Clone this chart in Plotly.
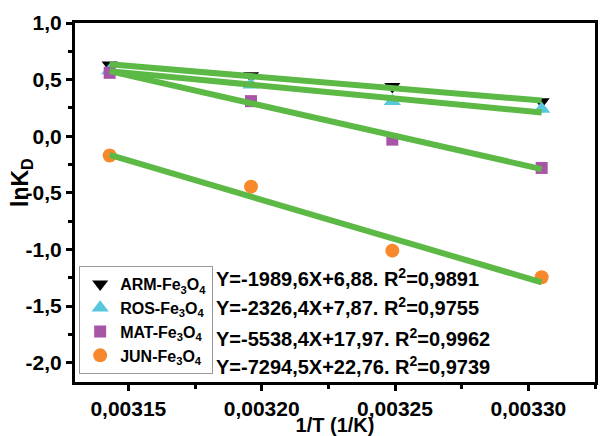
import plotly.graph_objects as go

# ---- data ----
inv_T = [0.003143, 0.003196, 0.003249, 0.003305]

arm = [0.63, 0.535, 0.44, 0.305]
ros = [0.58, 0.455, 0.31, 0.24]
mat = [0.56, 0.31, -0.03, -0.28]
jun = [-0.17, -0.445, -1.01, -1.245]

# fitted lines (values at first and last 1/T)
fit_x = [inv_T[0], inv_T[-1]]
arm_fit = [0.635, 0.315]
ros_fit = [0.575, 0.21]
mat_fit = [0.575, -0.29]
jun_fit = [-0.165, -1.29]

names = ["ARM-Fe<sub>3</sub>O<sub>4</sub>", "ROS-Fe<sub>3</sub>O<sub>4</sub>",
         "MAT-Fe<sub>3</sub>O<sub>4</sub>", "JUN-Fe<sub>3</sub>O<sub>4</sub>"]
equations = ["Y=-1989,6X+6,88. R<sup>2</sup>=0,9891",
             "Y=-2326,4X+7,87. R<sup>2</sup>=0,9755",
             "Y=-5538,4X+17,97. R<sup>2</sup>=0,9962",
             "Y=-7294,5X+22,76. R<sup>2</sup>=0,9739"]

x_ticks = [0.00315, 0.00320, 0.00325, 0.00330]
x_ticktext = ["0,00315", "0,00320", "0,00325", "0,00330"]
y_ticks = [1.0, 0.5, 0.0, -0.5, -1.0, -1.5, -2.0]
y_ticktext = ["1,0", "0,5", "0,0", "-0,5", "-1,0", "-1,5", "-2,0"]

FONT = "Liberation Sans, Arial, sans-serif"
GREEN = "#5cb946"
series = [
    (arm, arm_fit, "triangle-down", "#000000", 14),
    (ros, ros_fit, "triangle-up", "#57c7dc", 15),
    (mat, mat_fit, "square", "#a855a8", 12),
    (jun, jun_fit, "circle", "#f7892c", 14),
]

fig = go.Figure()
for (ys, _, sym, col, sz), nm in zip(series, names):
    fig.add_trace(go.Scatter(x=inv_T, y=ys, mode="markers", name=nm,
                             marker=dict(symbol=sym, color=col, size=sz, line=dict(width=0))))
for (_, fy, _, _, _) in series:
    fig.add_trace(go.Scatter(x=fit_x, y=fy, mode="lines", showlegend=False,
                             line=dict(color=GREEN, width=6)))

eq_y = [0.290, 0.209, 0.125, 0.047]
for txt, yy in zip(equations, eq_y):
    fig.add_annotation(text=txt, xref="paper", yref="paper", x=0.268, y=yy,
                       xanchor="left", yanchor="middle", showarrow=False,
                       font=dict(family=FONT, size=20, color="black", weight="bold"))

fig.add_annotation(text="lnK<sub>D</sub>", xref="paper", yref="paper",
                   x=-0.104, y=0.557, textangle=-90, showarrow=False,
                   xanchor="center", yanchor="middle",
                   font=dict(family=FONT, size=23, color="black", weight="bold"))

axis_common = dict(showline=True, linecolor="black", linewidth=3, mirror=True,
                   ticks="outside", tickwidth=3, ticklen=6, tickcolor="black",
                   showgrid=False, zeroline=False,
                   tickfont=dict(family=FONT, size=21, color="black", weight="bold"))

fig.update_xaxes(range=[0.003130, 0.003325], tickvals=x_ticks, ticktext=x_ticktext,
                 minor=dict(ticks="outside", dtick=0.000025, tick0=0.00315,
                            ticklen=4, tickwidth=3, tickcolor="black"),
                 title=dict(text="1/T (1/K)", standoff=0,
                            font=dict(family=FONT, size=20, color="black", weight="bold")),
                 **axis_common)
fig.update_yaxes(range=[-2.17, 1.0], tickvals=y_ticks, ticktext=y_ticktext,
                 minor=dict(ticks="outside", dtick=0.25, tick0=0,
                            ticklen=4, tickwidth=3, tickcolor="black"),
                 **axis_common)

fig.update_layout(
    width=600, height=436,
    margin=dict(l=75, r=5, t=23, b=54, autoexpand=False),
    plot_bgcolor="white", paper_bgcolor="white",
    font=dict(family=FONT, color="black"),
    legend=dict(x=0.008, y=0.323, xanchor="left", yanchor="top",
                bgcolor="white", bordercolor="#999999", borderwidth=1,
                font=dict(family=FONT, size=16, color="black", weight="bold"),
                tracegroupgap=0, itemwidth=30),
    showlegend=True,
)

fig.write_html("out.html", config={"displayModeBar": False},
               post_script="document.body.style.margin='0';")
